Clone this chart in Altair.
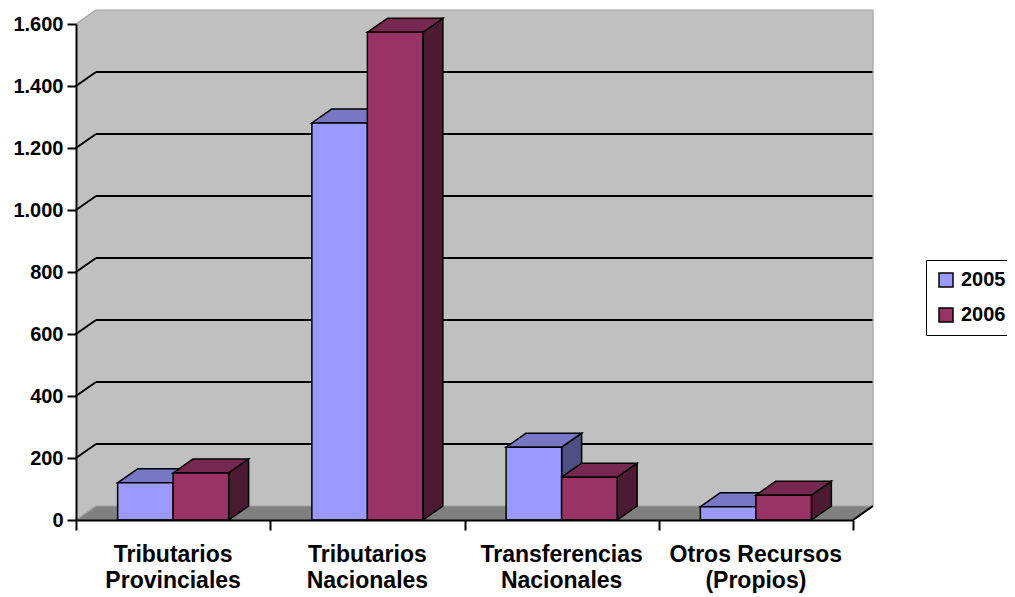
import altair as alt
import pandas as pd

# ---- data ----
categories = ["Tributarios\nProvinciales", "Tributarios\nNacionales",
              "Transferencias\nNacionales", "Otros Recursos\n(Propios)"]
years = ["2005", "2006"]
values_2005 = [120, 1281, 235, 43]
values_2006 = [152, 1573, 138, 80]
y_ticks = [0, 200, 400, 600, 800, 1000, 1200, 1400, 1600]

# ---- styles ----
FONT = "Liberation Sans"
front_colors = ["#9999FF", "#993366"]
top_colors = {"2005": "#7777C4", "2006": "#772850"}
side_colors = {"2005": "#4F4F86", "2006": "#4D1A33"}
WALL = "#C0C0C0"
FLOOR = "#808080"

W, H = 777, 496
Y_MAX = 1600
N = len(categories)
PX_X = W / N          # pixels per category unit
PX_Y = H / Y_MAX      # pixels per value unit
DX = 20 / PX_X        # 3-D depth, in data units
DY = 14 / PX_Y
BAR_W = 1 / (2 + 1.5)  # Excel gap width 150 %

xs = alt.Scale(domain=[0, N], nice=False, zero=False)
ys = alt.Scale(domain=[0, Y_MAX], nice=False, zero=False)

# ---- tables built from the arrays ----
bars = []
for c in range(N):
    for i, (yr, vals) in enumerate(zip(years, [values_2005, values_2006])):
        x0 = c + 0.5 - BAR_W + i * BAR_W
        bars.append(dict(bar=f"{c}-{yr}", year=yr, value=vals[c], x0=x0, x1=x0 + BAR_W))
bars = pd.DataFrame(bars)

top_rows, side_rows = [], []
for _, b in bars.iterrows():
    top_rows += [dict(bar=b.bar, year=b.year, y=b.value, xa=b.x0, xb=b.x1),
                 dict(bar=b.bar, year=b.year, y=b.value + DY, xa=b.x0 + DX, xb=b.x1 + DX)]
    side_rows += [dict(bar=b.bar, year=b.year, x=b.x1, ya=b.value, yb=0),
                  dict(bar=b.bar, year=b.year, x=b.x1 + DX, ya=b.value + DY, yb=DY)]
tops = pd.DataFrame(top_rows)
sides = pd.DataFrame(side_rows)

# walls and floor
back_wall = pd.DataFrame([dict(x=DX, x2=N + DX, y=DY, y2=Y_MAX + DY)])
left_wall = pd.DataFrame([dict(x=0, ya=0, yb=Y_MAX), dict(x=DX, ya=DY, yb=Y_MAX + DY)])
floor = pd.DataFrame([dict(y=0, xa=0, xb=N), dict(y=DY, xa=DX, xb=N + DX)])

grid_rows = []
for v in y_ticks[1:-1]:
    grid_rows.append(dict(x=0, x2=DX, y=v, y2=v + DY))
    grid_rows.append(dict(x=DX, x2=N + DX, y=v + DY, y2=v + DY))
grid = pd.DataFrame(grid_rows)

edges_light = pd.DataFrame([
    dict(x=0, x2=DX, y=Y_MAX, y2=Y_MAX + DY),
    dict(x=DX, x2=N + DX, y=Y_MAX + DY, y2=Y_MAX + DY),
    dict(x=N + DX, x2=N + DX, y=DY, y2=Y_MAX + DY),
    dict(x=0, x2=DX, y=0, y2=DY),
    dict(x=DX, x2=N + DX, y=DY, y2=DY),
])
edges_dark = pd.DataFrame([dict(x=N, x2=N + DX, y=0, y2=DY)])

labels = pd.DataFrame(dict(cat=categories, xc=[c + 0.5 for c in range(N)]))

# ---- axes (shared by every layer) ----
x_axis = alt.Axis(values=list(range(N + 1)), labels=False, title=None, grid=False,
                  tickSize=10, tickWidth=2, tickColor="black",
                  domainColor="black", domainWidth=2, zindex=1)
y_axis = alt.Axis(values=y_ticks, title=None, grid=False,
                  labelExpr="replace(format(datum.value, ','), ',', '.')",
                  labelFont=FONT, labelFontSize=20, labelFontWeight="bold",
                  labelColor="black", labelPadding=4,
                  tickSize=9, tickWidth=2, tickColor="black",
                  domainColor="black", domainWidth=2, zindex=1)


def X(field):
    return alt.X(field, type="quantitative", scale=xs, axis=x_axis)


def Y(field):
    return alt.Y(field, type="quantitative", scale=ys, axis=y_axis)


wall_l = alt.Chart(back_wall).mark_rect(color=WALL).encode(
    x=X("x"), x2="x2", y=Y("y"), y2="y2")
lwall_l = alt.Chart(left_wall).mark_area(color=WALL, orient="vertical").encode(
    x=X("x"), y=Y("ya"), y2="yb")
floor_l = alt.Chart(floor).mark_area(color=FLOOR, orient="horizontal").encode(
    y=Y("y"), x=X("xa"), x2="xb")
grid_l = alt.Chart(grid).mark_rule(color="black", strokeWidth=2).encode(
    x=X("x"), x2="x2", y=Y("y"), y2="y2")
light_l = alt.Chart(edges_light).mark_rule(color="#A0A0A0", strokeWidth=1.2).encode(
    x=X("x"), x2="x2", y=Y("y"), y2="y2")
dark_l = alt.Chart(edges_dark).mark_rule(color="black", strokeWidth=2).encode(
    x=X("x"), x2="x2", y=Y("y"), y2="y2")

face_layers = []
for yr in years:
    face_layers.append(
        alt.Chart(sides).transform_filter(alt.datum.year == yr)
        .mark_area(orient="vertical", color=side_colors[yr], stroke="black",
                   strokeWidth=1.5, strokeJoin="miter")
        .encode(x=X("x"), y=Y("ya"), y2="yb", detail="bar:N"))
    face_layers.append(
        alt.Chart(tops).transform_filter(alt.datum.year == yr)
        .mark_area(orient="horizontal", color=top_colors[yr], stroke="black",
                   strokeWidth=1.5, strokeJoin="miter")
        .encode(y=Y("y"), x=X("xa"), x2="xb", detail="bar:N"))

front_l = alt.Chart(bars).mark_bar(stroke="black", strokeWidth=1.5, opacity=1).encode(
    x=X("x0"), x2="x1", y=Y("value"), y2=alt.datum(0),
    color=alt.Color("year:N", scale=alt.Scale(domain=years, range=front_colors),
                    legend=alt.Legend(orient="none", legendX=850, legendY=236,
                                      title=None, symbolType="square", symbolSize=196,
                                      symbolStrokeColor="black", symbolStrokeWidth=1.5,
                                      symbolOpacity=1,
                                      labelFont=FONT, labelFontSize=20,
                                      labelFontWeight="bold", labelColor="black",
                                      labelOffset=5, rowPadding=15, padding=10,
                                      strokeColor="black", fillColor="white")))

label_l = alt.Chart(labels).mark_text(
    font=FONT, fontSize=23, fontWeight="bold", color="black",
    align="center", baseline="alphabetic", lineBreak="\n", lineHeight=26,
).encode(x=X("xc"), y=alt.value(538), text="cat:N")

chart = alt.layer(wall_l, lwall_l, floor_l, grid_l, light_l, dark_l,
                  *face_layers, front_l, label_l).properties(
    width=W, height=H,
    autosize=alt.AutoSizeParams(type="none"),
    padding={"left": 68, "top": 16, "right": 154, "bottom": 76},
    background="white",
).configure_view(stroke=None)

chart.save("out.html", embed_options={"renderer": "svg", "actions": False})
